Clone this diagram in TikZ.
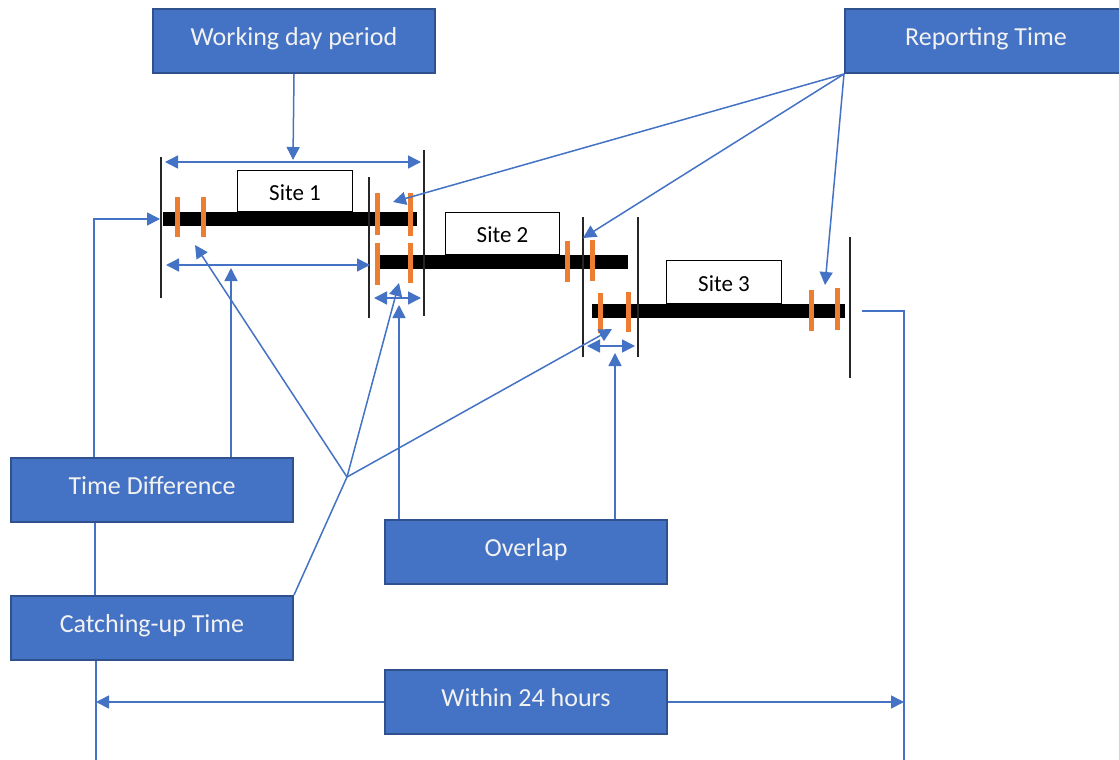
\documentclass[tikz,border=0pt]{standalone}
\usepackage{fontspec}
\setmainfont{Carlito}
\usetikzlibrary{arrows.meta}
\definecolor{boxblue}{HTML}{4472C4}
\definecolor{boxedge}{HTML}{2F528F}
\definecolor{tickorange}{HTML}{ED7D31}
\definecolor{labelwhite}{HTML}{F2F2F2}
\begin{document}
\begin{tikzpicture}[x=1pt,y=-1pt,
  infobox/.style={draw=boxedge, line width=2pt, fill=boxblue, text=labelwhite,
    minimum width=282pt, minimum height=64pt, inner sep=0pt,
    text height=17pt, text depth=8pt,
    font=\fontsize{26}{30}\selectfont, anchor=north west},
  sitebox/.style={draw=black, line width=1pt, fill=white, inner sep=0pt,
    text height=19pt, text depth=1pt,
    font=\fontsize{23}{27}\selectfont, anchor=south west},
  conn/.style={draw=boxblue, line width=1.5pt},
  tip/.tip={Triangle[length=13pt,width=13pt]},
  arr/.style={conn, -tip},
  darr/.style={conn, tip-tip},
  timebar/.style={line width=14pt, black},
  tickmark/.style={line width=5pt, tickorange},
  limit/.style={line width=1.4pt, black!85},
]
\fill[white] (0,0) rectangle (1119,760);
\clip (0,0) rectangle (1119,760);

% ---------- site labels ----------
\node[sitebox, minimum width=115pt, minimum height=41pt] (s1) at (237,212) {Site 1};
\node[sitebox, minimum width=114pt, minimum height=42pt] (s2) at (445,255) {Site 2};
\node[sitebox, minimum width=115pt, minimum height=43pt] (s3) at (666,304) {Site 3};

% ---------- working periods ----------
\draw[timebar] (163,219) -- (417,219);
\draw[timebar] (380,262) -- (628,262);
\draw[timebar] (592,311) -- (845,311);

% start / end marks of each working day
\foreach \x/\a/\b in {177/197/237, 203/197/237, 377/193/235, 410/193/236,
                      377/243/285, 410/243/283, 567/241/282, 592/240/281,
                      600/293/333, 628/292/332, 811/290/331, 837/288/330}
  \draw[tickmark] (\x,\a) -- (\x,\b);

% limits of the working days
\draw[limit] (161,157) -- (161,298);
\draw[limit] (369,177) -- (369,318);
\draw[limit] (424,150) -- (424,316);
\draw[limit] (583,217) -- (583,357);
\draw[limit] (638,217) -- (638,357);
\draw[limit] (850,237) -- (850,378);

% ---------- arrow end points ----------
\coordinate (wdL) at (165,162);  \coordinate (wdR) at (421,162);
\coordinate (wdMid) at (293,160);
\coordinate (tdL) at (166,265);  \coordinate (tdR) at (370,265);
\coordinate (tdMid) at (231,268);
\coordinate (ovAL) at (374,298); \coordinate (ovAR) at (421,298);
\coordinate (ovAMid) at (399,305);
\coordinate (ovBL) at (587,346); \coordinate (ovBR) at (635,346);
\coordinate (ovBMid) at (615,353);
\coordinate (rep1) at (393,202); \coordinate (rep2) at (583,238);
\coordinate (rep3) at (825,285);
\coordinate (cu1) at (195,245);  \coordinate (cu2) at (399,283);
\coordinate (cu3) at (612,329);
\coordinate (junc) at (347,477);
\coordinate (startA) at (160,219);
\coordinate (endC) at (862,311);
\coordinate (lrail) at (96,760);
\coordinate (rrail) at (904,760);

% ---------- label boxes ----------
\node[infobox] (work)    at (152,8)   {Working day period};
\node[infobox] (report)  at (844,8)   {Reporting Time};
\node[infobox] (tdiff)   at (10,457)  {Time Difference};
\node[infobox] (catch)   at (10,595)  {Catching-up Time};
\node[infobox] (overlap) at (384,519) {Overlap};
\node[infobox] (within)  at (384,669) {Within 24 hours};

% ---------- connectors ----------
% working day period
\draw[darr] (wdL) -- (wdR);
\draw[arr] (work.south) -- (wdMid);

% reporting time
\draw[arr] (report.south west) -- (rep1);
\draw[arr] (report.south west) -- (rep2);
\draw[arr] (report.south west) -- (rep3);

% time difference
\draw[darr] (tdL) -- (tdR);
\draw[arr] ([xshift=221pt]tdiff.north west) -- (tdMid);
\draw[arr] ([xshift=84pt]tdiff.north west) |- (startA);

% overlaps
\draw[darr] (ovAL) -- (ovAR);
\draw[darr] (ovBL) -- (ovBR);
\draw[arr] ([xshift=15pt]overlap.north west) -- (ovAMid);
\draw[arr] ([xshift=231pt]overlap.north west) -- (ovBMid);

% catching-up time
\draw[conn] (catch.north east) -- (junc);
\draw[arr] (junc) -- (cu1);
\draw[arr] (junc) -- (cu2);
\draw[arr] (junc) -- (cu3);

% 24 hour span
\draw[conn] ([xshift=85pt]tdiff.south west) -- ([xshift=85pt]catch.north west);
\draw[conn] ([xshift=86pt]catch.south west) -- (catch.south west -| lrail) -- (lrail);
\draw[conn] (endC) -| (rrail);
\draw[arr] (within.west) -- (within.west -| lrail);
\draw[arr] (within.east) -- (within.east -| rrail);
\end{tikzpicture}
\end{document}
